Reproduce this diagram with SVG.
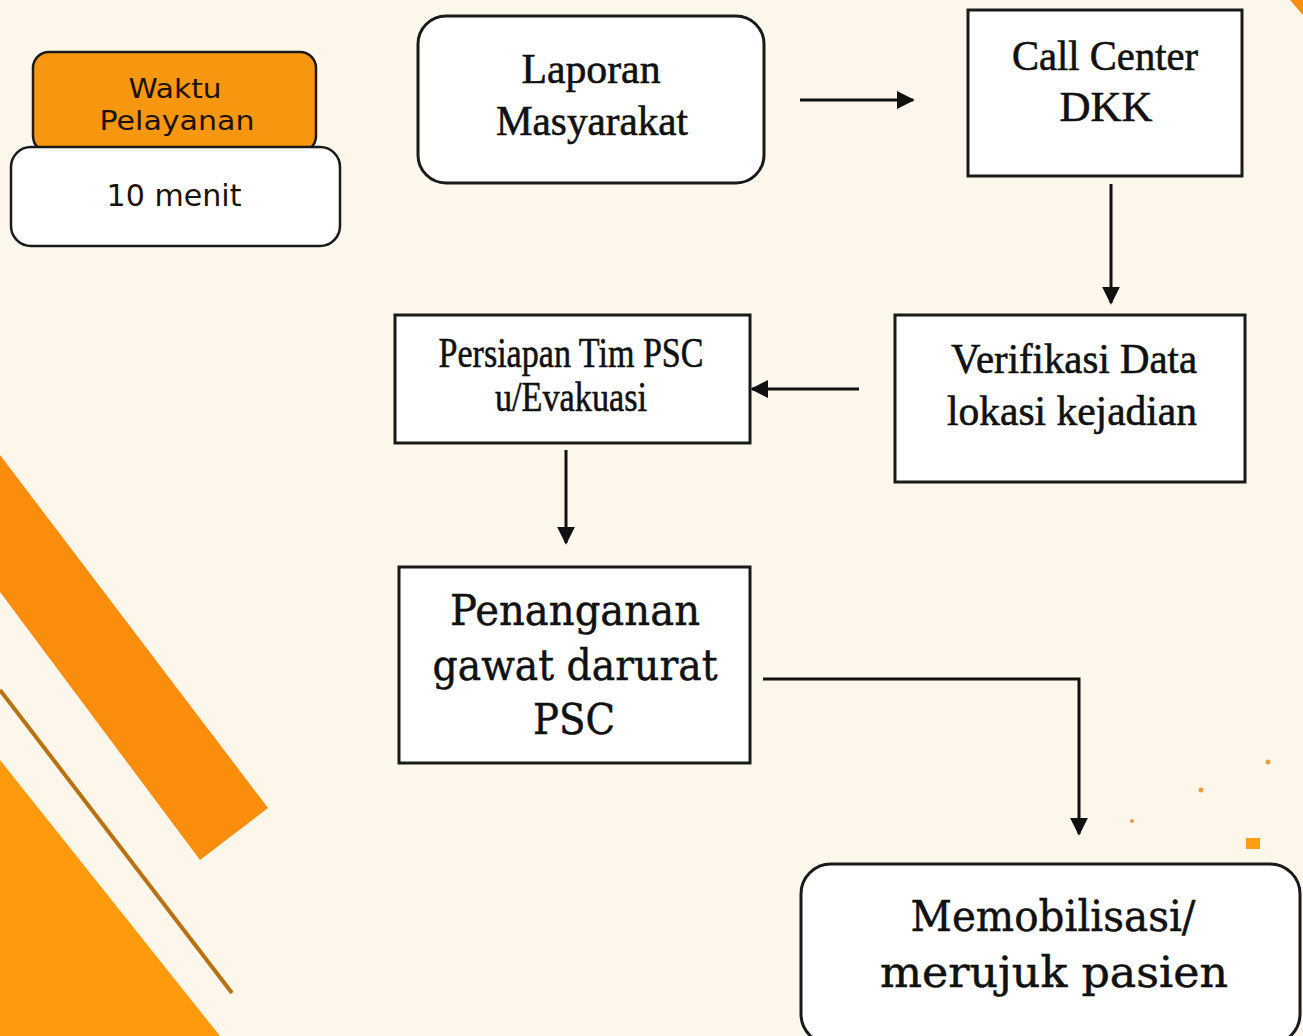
<svg xmlns="http://www.w3.org/2000/svg" width="1303" height="1036" viewBox="0 0 1303 1036">
<defs>
<style>
.box{fill:#ffffff;stroke:#1a1a1a;stroke-width:3}
.t{font-family:"Liberation Serif","Times New Roman",serif;font-size:43px;fill:#111;stroke:#111;stroke-width:0.6;text-anchor:middle}
.c{font-family:"DejaVu Serif","Liberation Serif",serif;font-size:42px;fill:#111;stroke:#111;stroke-width:0.5;text-anchor:middle}
.s{font-family:"DejaVu Sans","Verdana",sans-serif;fill:#1d1208;text-anchor:middle}
.conn{fill:none;stroke:#111;stroke-width:3}
</style>
<marker id="ah" viewBox="0 0 10 10" refX="9" refY="5" markerWidth="6" markerHeight="6" orient="auto" markerUnits="strokeWidth">
<path d="M0,0 L10,5 L0,10 Z" fill="#111"/>
</marker>
</defs>
<rect width="1303" height="1036" fill="#fdf6eb"/>
<g id="decor">
<polygon points="0,455 268,808 200,860 0,592" fill="#fb8d0c"/>
<line x1="0" y1="690" x2="232" y2="993" stroke="#b8720f" stroke-width="4"/>
<polygon points="0,760 220,1036 0,1036" fill="#fe9a0b"/>
<polygon points="1290,0 1303,0 1303,15" fill="#fb8d0c"/>
<circle cx="1268" cy="762" r="2.5" fill="#e8a040"/>
<circle cx="1201" cy="790" r="2.5" fill="#e8a040"/>
<circle cx="1132" cy="821" r="2" fill="#e8a040"/>
<rect x="1246" y="838" width="14" height="11" fill="#fb9d15"/>
</g>
<g id="badge">
<rect x="33" y="52" width="283" height="100" rx="16" fill="#f7960f" stroke="#1a1a1a" stroke-width="2.5"/>
<rect x="11" y="147" width="329" height="99" rx="20" fill="#ffffff" stroke="#1a1a1a" stroke-width="2.5"/>
<text class="s" x="175" y="98" font-size="26" textLength="93" lengthAdjust="spacingAndGlyphs">Waktu</text>
<text class="s" x="177" y="130" font-size="26" textLength="155" lengthAdjust="spacingAndGlyphs">Pelayanan</text>
<text class="s" x="174" y="206" font-size="30" textLength="135" lengthAdjust="spacingAndGlyphs">10 menit</text>
</g>
<g id="connectors">
<line class="conn" x1="800" y1="100" x2="913" y2="100" marker-end="url(#ah)"/>
<line class="conn" x1="1111" y1="184" x2="1111" y2="303" marker-end="url(#ah)"/>
<line class="conn" x1="859" y1="389" x2="752" y2="389" marker-end="url(#ah)"/>
<line class="conn" x1="566" y1="450" x2="566" y2="543" marker-end="url(#ah)"/>
<polyline class="conn" points="763,679 1079,679 1079,834" marker-end="url(#ah)"/>
</g>
<g id="laporan">
<rect class="box" x="418" y="16" width="346" height="167" rx="28"/>
<text class="t" x="591" y="83" textLength="139" lengthAdjust="spacingAndGlyphs">Laporan</text>
<text class="t" x="592" y="135" textLength="192" lengthAdjust="spacingAndGlyphs">Masyarakat</text>
</g>
<g id="callcenter">
<rect class="box" x="968" y="10" width="274" height="166"/>
<text class="t" x="1105" y="70" textLength="186" lengthAdjust="spacingAndGlyphs">Call Center</text>
<text class="t" x="1106" y="121" textLength="93" lengthAdjust="spacingAndGlyphs">DKK</text>
</g>
<g id="verifikasi">
<rect class="box" x="895" y="315" width="350" height="167"/>
<text class="t" x="1074" y="373" textLength="246" lengthAdjust="spacingAndGlyphs">Verifikasi Data</text>
<text class="t" x="1072" y="425" textLength="250" lengthAdjust="spacingAndGlyphs">lokasi kejadian</text>
</g>
<g id="persiapan">
<rect class="box" x="395" y="315" width="355" height="128"/>
<text class="t" x="571" y="367" font-size="32" textLength="265" lengthAdjust="spacingAndGlyphs">Persiapan Tim PSC</text>
<text class="t" x="571" y="411" font-size="32" textLength="152" lengthAdjust="spacingAndGlyphs">u/Evakuasi</text>
</g>
<g id="penanganan">
<rect class="box" x="399" y="567" width="351" height="196"/>
<text class="c" x="575" y="625" textLength="250" lengthAdjust="spacingAndGlyphs">Penanganan</text>
<text class="c" x="575" y="680" textLength="285" lengthAdjust="spacingAndGlyphs">gawat darurat</text>
<text class="c" x="574" y="734" textLength="82" lengthAdjust="spacingAndGlyphs">PSC</text>
</g>
<g id="memobilisasi">
<rect class="box" x="801" y="864" width="499" height="180" rx="30"/>
<text class="c" x="1053" y="931" textLength="285" lengthAdjust="spacingAndGlyphs">Memobilisasi/</text>
<text class="c" x="1054" y="987" textLength="348" lengthAdjust="spacingAndGlyphs">merujuk pasien</text>
</g>
</svg>
